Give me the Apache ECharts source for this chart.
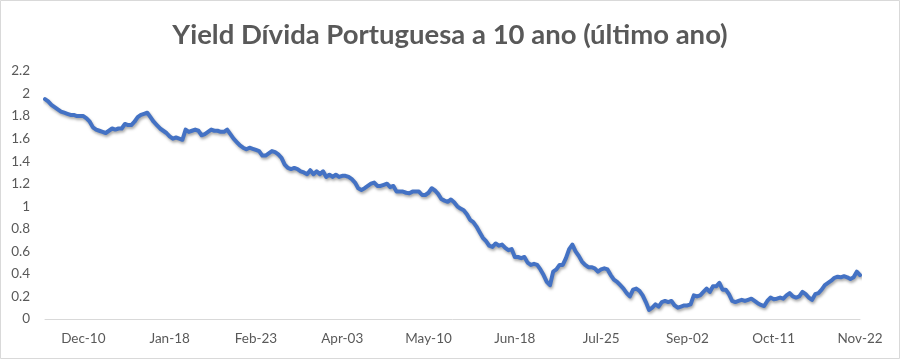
<!DOCTYPE html>
<html>
<head>
<meta charset="utf-8">
<script src="https://cdn.jsdelivr.net/npm/echarts@6/dist/echarts.min.js"></script>
<style>
html,body{margin:0;padding:0;background:#fff;}
#chart{width:900px;height:359px;}
</style>
</head>
<body>
<div id="chart"></div>
<script>
const titleText = 'Yield Dívida Portuguesa a 10 ano (último ano)';
const tickLabels = ['Dec-10','Jan-18','Feb-23','Apr-03','May-10','Jun-18','Jul-25','Sep-02','Oct-11','Nov-22'];
const tickIndex = [12,39,66,93,120,147,174,201,228,255];
const yields = [
1.95,1.93,1.90,1.88,1.86,1.84,1.83,1.82,1.81,1.81,
1.80,1.80,1.80,1.78,1.75,1.70,1.68,1.67,1.66,1.65,
1.67,1.69,1.68,1.69,1.69,1.73,1.72,1.72,1.75,1.79,
1.81,1.82,1.83,1.79,1.75,1.72,1.69,1.67,1.65,1.62,
1.60,1.61,1.60,1.59,1.68,1.66,1.67,1.68,1.67,1.63,
1.64,1.66,1.68,1.67,1.67,1.66,1.66,1.68,1.64,1.60,
1.57,1.54,1.52,1.505,1.52,1.51,1.50,1.49,1.45,1.45,
1.47,1.49,1.48,1.46,1.43,1.37,1.34,1.33,1.34,1.33,
1.31,1.30,1.285,1.32,1.285,1.31,1.285,1.31,1.26,1.28,
1.26,1.28,1.26,1.27,1.27,1.26,1.24,1.21,1.16,1.145,
1.16,1.18,1.20,1.21,1.18,1.18,1.19,1.20,1.17,1.18,
1.13,1.13,1.13,1.12,1.115,1.13,1.13,1.13,1.10,1.10,
1.12,1.16,1.14,1.11,1.065,1.05,1.04,1.06,1.035,1.00,
0.98,0.965,0.93,0.88,0.86,0.82,0.77,0.72,0.69,0.65,
0.64,0.67,0.65,0.66,0.63,0.61,0.62,0.55,0.55,0.54,
0.55,0.50,0.48,0.49,0.48,0.44,0.39,0.33,0.30,0.42,
0.44,0.48,0.48,0.54,0.62,0.66,0.60,0.56,0.51,0.48,
0.46,0.46,0.45,0.42,0.44,0.45,0.44,0.39,0.35,0.33,
0.30,0.27,0.23,0.20,0.26,0.27,0.25,0.21,0.15,0.08,
0.10,0.13,0.11,0.15,0.16,0.15,0.16,0.12,0.10,0.11,
0.12,0.12,0.13,0.21,0.20,0.21,0.24,0.27,0.24,0.29,
0.29,0.32,0.26,0.26,0.22,0.16,0.15,0.16,0.17,0.16,
0.17,0.18,0.16,0.14,0.125,0.115,0.16,0.19,0.175,0.18,
0.19,0.18,0.21,0.23,0.20,0.19,0.20,0.24,0.22,0.19,
0.17,0.22,0.23,0.26,0.30,0.32,0.34,0.365,0.375,0.37,
0.38,0.37,0.355,0.37,0.42,0.39
];
const categories = yields.map((_, i) => String(i));
const labelMap = {};
tickIndex.forEach((idx, k) => { labelMap[idx] = tickLabels[k]; });

const chart = echarts.init(document.getElementById('chart'), null, {renderer: 'canvas'});
const font = 'Lato, "Open Sans", sans-serif';
chart.setOption({
  animation: false,
  backgroundColor: '#ffffff',
  title: {
    text: titleText,
    left: 'center',
    top: 16,
    textStyle: {fontFamily: font, fontSize: 27.5, fontWeight: 'bold', color: '#595959'}
  },
  graphic: [{
    type: 'rect',
    shape: {x: 0.5, y: 0.5, width: 899, height: 358},
    style: {fill: 'none', stroke: '#d9d9d9', lineWidth: 1},
    silent: true
  }],
  grid: {left: 45, right: 40, top: 71, bottom: 40, containLabel: false},
  xAxis: {
    type: 'category',
    data: categories,
    boundaryGap: false,
    axisLine: {lineStyle: {color: '#d9d9d9', width: 1}},
    axisTick: {show: false},
    axisLabel: {
      interval: (index) => labelMap[index] !== undefined,
      formatter: (value, index) => labelMap[index] || '',
      color: '#595959', fontFamily: font, fontSize: 13.5, margin: 13
    },
    splitLine: {show: false}
  },
  yAxis: {
    type: 'value',
    min: 0, max: 2.2, interval: 0.2,
    axisLine: {show: false},
    axisTick: {show: false},
    splitLine: {show: false},
    axisLabel: {color: '#595959', fontFamily: font, fontSize: 13.5, margin: 15,
      formatter: (v) => String(Math.round(v * 10) / 10)}
  },
  series: [{
    type: 'line',
    data: yields,
    showSymbol: false,
    symbol: 'none',
    lineStyle: {color: '#4472C4', width: 4, shadowColor: 'rgba(0,0,0,0.35)', shadowBlur: 3, shadowOffsetX: 1, shadowOffsetY: 2, join: 'round', cap: 'round'},
    itemStyle: {color: '#4472C4'}
  }]
});
</script>
</body>
</html>
